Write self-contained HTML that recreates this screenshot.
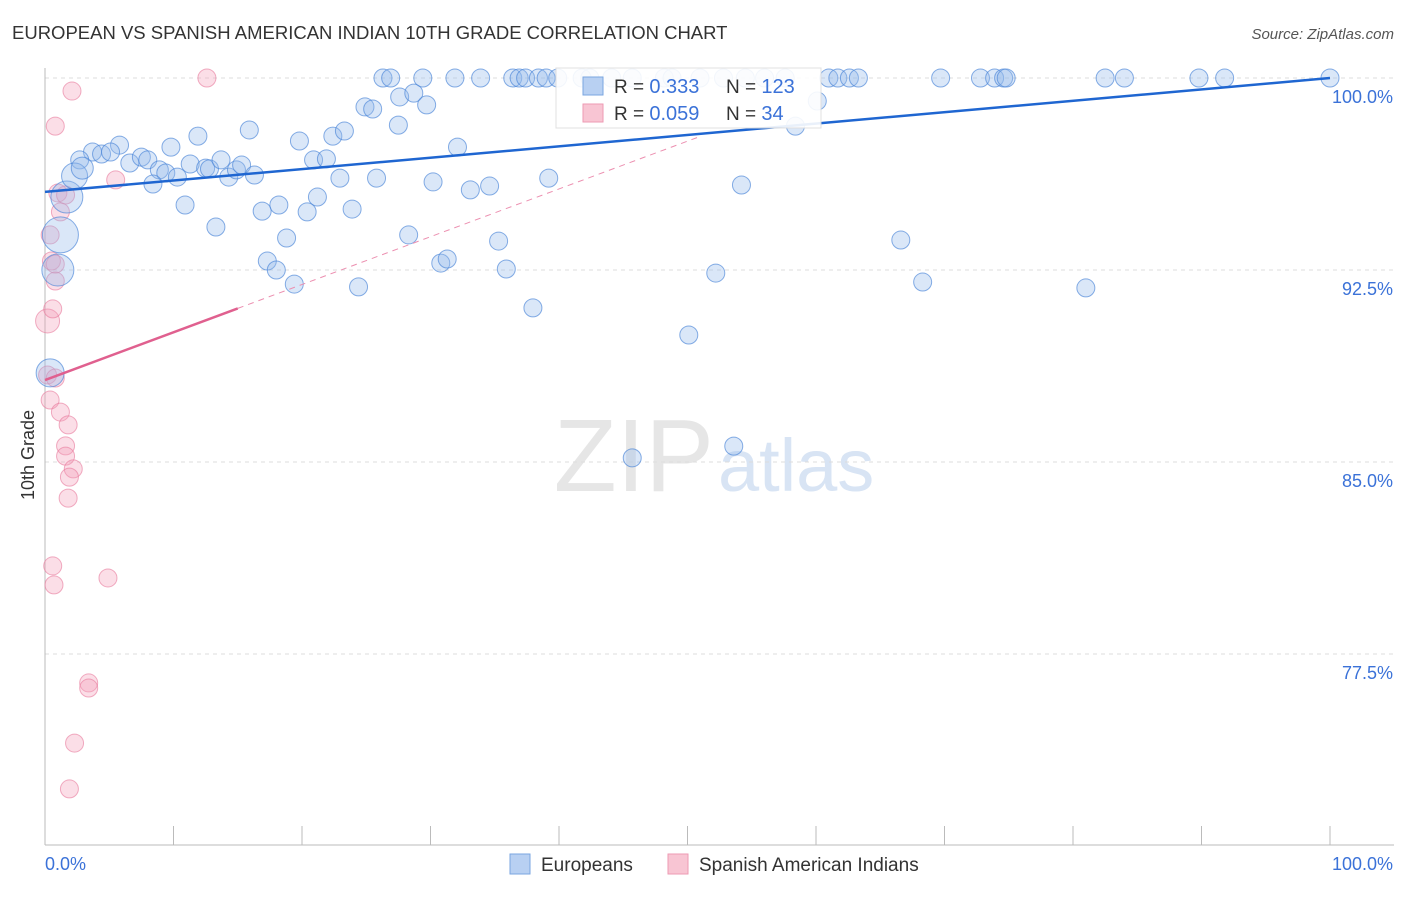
<!DOCTYPE html>
<html><head><meta charset="utf-8"><style>
body{margin:0;background:#fff;font-family:"Liberation Sans",sans-serif;}
svg text{font-family:"Liberation Sans",sans-serif;}
</style></head><body>
<svg id="c" width="1406" height="892" viewBox="0 0 1406 892" xmlns="http://www.w3.org/2000/svg">
<text x="12" y="39" font-size="18.5" fill="#333">EUROPEAN VS SPANISH AMERICAN INDIAN 10TH GRADE CORRELATION CHART</text>
<text x="1394" y="39" font-size="15" fill="#555" font-style="italic" text-anchor="end">Source: ZipAtlas.com</text>
<text x="714" y="491" font-size="103" fill="#e6e6e6" text-anchor="end" font-family="Liberation Serif">ZIP</text>
<text x="718" y="491" font-size="74" fill="#d8e4f4">atlas</text>
<g id="grid"></g>
<g id="marks"></g>
<text x="34" y="455" font-size="18" fill="#333" text-anchor="middle" transform="rotate(-90 34 455)">10th Grade</text>
<g>
<rect x="556" y="68" width="265" height="60" fill="#fff" stroke="#ddd" opacity="0.9"/>
<rect x="583" y="77" width="20" height="18" fill="#b8d0f2" stroke="#7aa6e0"/>
<rect x="583" y="104" width="20" height="18" fill="#f8c5d3" stroke="#ee9ab3"/>
<text x="614" y="93" font-size="19" fill="#333">R = <tspan fill="#3b72d8" font-size="20">0.333</tspan><tspan x="726">N = </tspan><tspan fill="#3b72d8" font-size="20">123</tspan></text>
<text x="614" y="120" font-size="19" fill="#333">R = <tspan fill="#3b72d8" font-size="20">0.059</tspan><tspan x="726">N = </tspan><tspan fill="#3b72d8" font-size="20"> 34</tspan></text>
</g>
<g>
<rect x="510" y="854" width="20" height="20" fill="#b8d0f2" stroke="#7aa6e0"/>
<text x="541" y="871" font-size="19" fill="#333">Europeans</text>
<rect x="668" y="854" width="20" height="20" fill="#f8c5d3" stroke="#ee9ab3"/>
<text x="699" y="871" font-size="19" fill="#333">Spanish American Indians</text>
</g>
<text x="45" y="870" font-size="18" fill="#3b72d8">0.0%</text>
<text x="1393" y="870" font-size="18" fill="#3b72d8" text-anchor="end">100.0%</text>
</svg>
<script>
const yTicks=[100,92.5,85,77.5];
const yTickLabels=["100.0%","92.5%","85.0%","77.5%"];
const xTicks=[0,10,20,30,40,50,60,70,80,90,100];
// Europeans: [x%, y%, radius]
const euroX=[26.3,26.9,29.4,31.9,33.9,36.4,36.9,37.4,38.4,39.0,39.9,41.8,42.4,44.1,45.7,48.2,48.8,50.97,52.8,54.5,56.0,57.6,61.0,61.7,62.6,63.3,69.7,72.8,73.9,74.6,74.8,82.5,84.0,89.8,91.8,100,
24.9,25.5,27.6,28.7,29.7,27.5,60.1,58.4,
15.9,11.9,9.8,5.8,3.7,4.4,5.1,2.7,6.6,7.5,8.0,8.9,9.4,10.3,8.4,11.3,12.5,12.8,13.7,14.3,14.9,15.3,16.3,19.8,20.9,21.9,22.4,23.3,22.95,25.8,32.1,30.2,33.1,34.6,39.2,54.2,
10.9,16.9,18.2,20.4,21.2,23.9,13.3,18.8,28.3,35.3,66.6,17.3,18.0,30.8,31.3,35.9,52.2,19.4,24.4,68.3,81.0,37.97,50.1,53.6,45.7,
1.2,1.0,1.7,2.3,2.9,0.4];
const euroY=[100,100,100,100,100,100,100,100,100,100,100,100,100,100,100,100,100,100,100,100,100,100,100,100,100,100,100,100,100,100,100,100,100,100,100,100,
98.87,98.79,99.26,99.41,98.95,98.16,99.1,98.12,
97.97,97.73,97.30,97.38,97.11,97.03,97.11,96.80,96.68,96.91,96.80,96.41,96.29,96.13,95.86,96.64,96.48,96.45,96.80,96.13,96.41,96.60,96.21,97.54,96.80,96.84,97.73,97.93,96.09,96.09,97.30,95.94,95.63,95.78,96.09,95.82,
95.04,94.80,95.04,94.77,95.35,94.88,94.18,93.75,93.87,93.63,93.67,92.85,92.50,92.77,92.93,92.54,92.38,91.95,91.84,92.03,91.80,91.02,89.96,85.62,85.16,
93.87,92.50,95.35,96.17,96.48,88.48];
const euroR=[];
for(let i=0;i<euroX.length;i++)euroR.push(9);
euroR[euroR.length-6]=18;euroR[euroR.length-5]=16;euroR[euroR.length-4]=16;euroR[euroR.length-3]=13;euroR[euroR.length-2]=11;euroR[euroR.length-1]=14;
// Spanish American Indians
const spanX=[12.6,2.1,0.8,5.5,1.0,1.6,1.2,0.4,0.5,0.8,0.2,0.6,0.8,0.2,0.8,0.4,1.2,1.8,1.6,1.6,2.2,1.9,1.8,0.6,0.7,4.9,3.4,3.4,2.3,1.9];
const spanY=[100,99.49,98.12,96.02,95.51,95.43,94.77,93.87,92.85,92.73,90.51,90.98,92.07,88.40,88.28,87.42,86.95,86.45,85.63,85.23,84.73,84.41,83.59,80.94,80.20,80.47,76.37,76.17,74.02,72.23];
const spanR=[9,9,9,9,9,9,9,9,9,9,12,9,9,9,9,9,9,9,9,9,9,9,9,9,9,9,9,9,9,9];
const euroTrend=[[0,95.55],[100,100]];
const spanTrend=[[0,88.2],[15,91.0]];
const spanDashEnd=50.9;

const X0=45,X1=1330,Y100=78,PXPER=25.6,YB=845;
const sx=v=>X0+(X1-X0)*v/100;
const sy=v=>Y100+(100-v)*PXPER;
const NS="http://www.w3.org/2000/svg";
function mk(tag,attrs,parent){const e=document.createElementNS(NS,tag);for(const k in attrs)e.setAttribute(k,attrs[k]);parent.appendChild(e);return e;}
const g=document.getElementById('grid'),m=document.getElementById('marks');
yTicks.forEach((t,i)=>{
 const l=mk('line',{x1:X0,x2:1394,y1:sy(t),y2:sy(t),stroke:'#ddd','stroke-dasharray':'4,4'},g);
 
 
 const tx=mk('text',{x:1393,y:sy(t)+25,'font-size':18,fill:'#3b72d8','text-anchor':'end'},g);
 tx.textContent=yTickLabels[i];
 
 
});
const ax=mk('line',{x1:X0,x2:X0,y1:68,y2:YB,stroke:'#bbb'},g);


const bx=mk('line',{x1:X0,x2:1394,y1:YB,y2:YB,stroke:'#bbb'},g);


xTicks.forEach(t=>{
 const l=mk('line',{x1:sx(t),x2:sx(t),y1:826,y2:YB,stroke:'#bbb'},g);
 
 
});
for(let i=0;i<spanX.length;i++){
 const c=mk('circle',{cx:sx(spanX[i]),cy:sy(spanY[i]),r:spanR[i],fill:'rgba(244,160,185,0.35)',stroke:'rgba(232,120,155,0.6)','stroke-width':1},m);
 
 
}
for(let i=0;i<euroX.length;i++){
 const c=mk('circle',{cx:sx(euroX[i]),cy:sy(euroY[i]),r:euroR[i],fill:'rgba(150,185,235,0.35)',stroke:'rgba(70,130,215,0.65)','stroke-width':1},m);
 
 
}
const slope=(spanTrend[1][1]-spanTrend[0][1])/(spanTrend[1][0]-spanTrend[0][0]);
const d=mk('line',{x1:sx(spanTrend[1][0]),y1:sy(spanTrend[1][1]),x2:sx(spanDashEnd),y2:sy(spanTrend[0][1]+slope*spanDashEnd),stroke:'#ec8fb0','stroke-width':1,'stroke-dasharray':'6,5'},m);


const t2=mk('line',{x1:sx(spanTrend[0][0]),y1:sy(spanTrend[0][1]),x2:sx(spanTrend[1][0]),y2:sy(spanTrend[1][1]),stroke:'#e0608f','stroke-width':2.5},m);


const t1=mk('line',{x1:sx(euroTrend[0][0]),y1:sy(euroTrend[0][1]),x2:sx(euroTrend[1][0]),y2:sy(euroTrend[1][1]),stroke:'#1f66d1','stroke-width':2.5},m);


</script>
</body></html>
